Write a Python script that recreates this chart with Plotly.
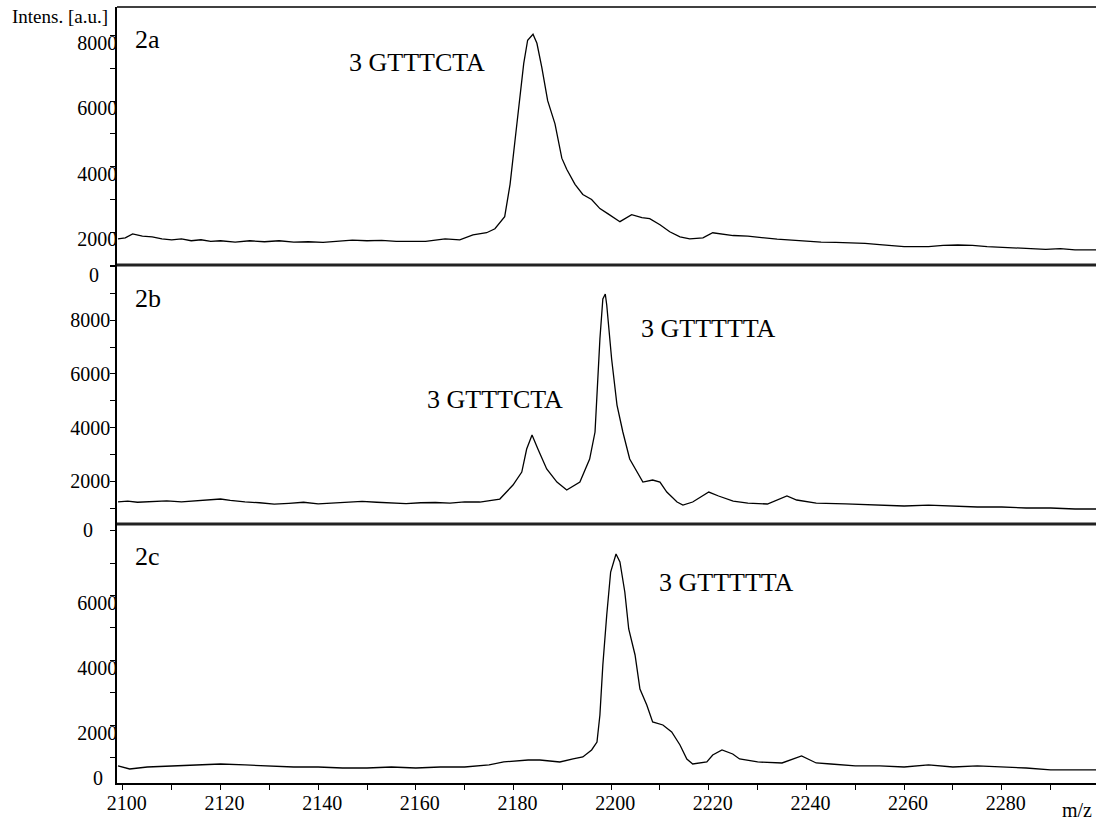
import plotly.graph_objects as go

# ---------------- data ----------------
mz_a = [2099.0, 2100.5, 2102.0, 2104.0, 2106.0, 2108.0, 2110.0, 2112.0, 2114.0, 2116.0,
        2118.0, 2120.0, 2123.0, 2126.0, 2129.0, 2132.0, 2135.0, 2138.0, 2141.0, 2144.0,
        2147.0, 2150.0, 2153.0, 2156.0, 2159.0, 2162.0, 2164.0, 2166.0, 2169.0, 2171.7,
        2174.5, 2176.2, 2178.2, 2179.3, 2180.3, 2181.3, 2182.1, 2182.9, 2184.0, 2184.8,
        2185.8, 2187.0, 2188.5, 2189.9, 2190.9, 2192.6, 2194.2, 2196.0, 2197.7, 2199.3,
        2201.8, 2204.2, 2206.3, 2207.9, 2210.0, 2212.0, 2214.1, 2216.1, 2218.8, 2220.8,
        2222.3, 2225.0, 2228.0, 2231.0, 2234.0, 2237.0, 2240.0, 2243.0, 2246.0, 2249.0,
        2252.0, 2255.0, 2260.0, 2265.0, 2268.0, 2271.0, 2274.0, 2277.0, 2280.0, 2283.0,
        2286.0, 2289.0, 2292.0, 2295.0, 2299.3]
int_a = [1800, 1830, 1950, 1880, 1860, 1800, 1770, 1800, 1740, 1770,
         1720, 1740, 1700, 1740, 1710, 1740, 1700, 1710, 1690, 1730,
         1760, 1740, 1750, 1720, 1730, 1720, 1760, 1800, 1769, 1923,
         1985, 2108, 2477, 3462, 4785, 6108, 7154, 7862, 8046, 7769,
         7031, 6016, 5308, 4262, 3923, 3462, 3154, 3000, 2723, 2569,
         2323, 2539, 2446, 2415, 2231, 2015, 1862, 1800, 1831, 1985,
         1954, 1900, 1880, 1830, 1790, 1760, 1720, 1700, 1690, 1680,
         1660, 1620, 1560, 1560, 1600, 1610, 1600, 1560, 1540, 1520,
         1500, 1480, 1500, 1460, 1460]

mz_b = [2099.0, 2101.0, 2103.0, 2106.0, 2109.0, 2112.0, 2115.0, 2118.0, 2120.0, 2122.0,
        2125.0, 2128.0, 2131.0, 2134.0, 2137.0, 2140.0, 2143.0, 2146.0, 2149.0, 2152.0,
        2155.0, 2158.0, 2161.0, 2164.0, 2167.0, 2170.0, 2173.1, 2177.2, 2179.9, 2181.7,
        2182.7, 2183.8, 2185.0, 2186.8, 2188.9, 2190.9, 2193.6, 2195.6, 2196.7, 2197.1,
        2197.7, 2198.3, 2198.8, 2199.1, 2200.1, 2201.2, 2202.4, 2203.8, 2205.3, 2206.5,
        2208.5, 2210.0, 2211.4, 2213.5, 2214.7, 2216.7, 2220.0, 2222.0, 2225.0, 2228.0,
        2232.0, 2236.0, 2238.0, 2242.0, 2248.0, 2255.0, 2260.0, 2265.0, 2270.0, 2275.0,
        2280.0, 2285.0, 2290.0, 2295.0, 2299.3]
int_b = [1230, 1260, 1220, 1250, 1270, 1230, 1280, 1330, 1340, 1290,
         1230, 1200, 1150, 1180, 1220, 1160, 1190, 1230, 1250, 1220,
         1190, 1170, 1200, 1210, 1190, 1230, 1228, 1340, 1862, 2346,
         3203, 3725, 3203, 2458, 1973, 1675, 1973, 2831, 3837, 5216,
         7303, 8794, 8980, 8570, 6558, 4843, 3837, 2831, 2346, 1973,
         2048, 1973, 1600, 1228, 1116, 1228, 1600, 1452, 1265, 1190,
         1154, 1452, 1303, 1190, 1160, 1116, 1080, 1116, 1080, 1042,
         1042, 1005, 1005, 968, 968]

mz_c = [2099.0, 2101.4, 2105.0, 2110.0, 2115.0, 2120.0, 2125.0, 2130.0, 2135.0, 2140.0,
        2145.0, 2150.0, 2155.0, 2160.0, 2165.0, 2170.0, 2175.0, 2178.0, 2181.0, 2183.0,
        2185.4, 2189.5, 2192.2, 2194.2, 2196.0, 2197.1, 2197.7, 2198.3, 2199.1, 2199.9,
        2201.0, 2201.8, 2202.8, 2203.6, 2204.9, 2205.9, 2207.3, 2208.5, 2210.6, 2212.4,
        2214.1, 2215.5, 2216.7, 2219.6, 2220.8, 2222.7, 2224.9, 2226.3, 2230.0, 2235.0,
        2239.0, 2242.0, 2245.0, 2250.0, 2255.0, 2260.0, 2265.0, 2270.0, 2275.0, 2280.0,
        2285.0, 2290.0, 2295.0, 2299.3]
int_c = [754, 661, 723, 754, 785, 815, 785, 754, 723, 723,
         692, 692, 723, 692, 723, 723, 785, 877, 908, 938,
         938, 877, 969, 1031, 1246, 1492, 2323, 3862, 5400, 6723,
         7277, 7031, 6108, 4969, 4169, 3123, 2631, 2108, 2015, 1800,
         1400, 969, 815, 877, 1092, 1246, 1123, 969, 877, 846,
         1062, 846, 815, 754, 754, 723, 785, 723, 754, 723,
         692, 631, 631, 631]

ticks_a = [2000, 4000, 6000, 8000]
minor_a = [1000, 3000, 5000, 7000]
ticks_b = [2000, 4000, 6000, 8000]
minor_b = [1000, 3000, 5000, 7000, 9000, 10000]
ticks_c = [2000, 4000, 6000]
minor_c = [1000, 3000, 5000, 7000, 8000]
x_ticks = [2100, 2120, 2140, 2160, 2180, 2200, 2220, 2240, 2260, 2280]

panel_labels = ["2a", "2b", "2c"]
peak_labels = [
    ("3 GTTTCTA", 2160.2, 7185, "y"),
    ("3 GTTTTTA", 2220.0, 7713, "y2"),
    ("3 GTTTCTA", 2176.2, 5067, "y2"),
    ("3 GTTTTTA", 2223.7, 6415, "y3"),
]

FONT = "Liberation Serif, Times New Roman, serif"
line_style = dict(color="black", width=1.3)

fig = go.Figure()
fig.add_trace(go.Scatter(x=mz_a, y=int_a, xaxis="x", yaxis="y", mode="lines", line=line_style, showlegend=False))
fig.add_trace(go.Scatter(x=mz_b, y=int_b, xaxis="x", yaxis="y2", mode="lines", line=line_style, showlegend=False))
fig.add_trace(go.Scatter(x=mz_c, y=int_c, xaxis="x", yaxis="y3", mode="lines", line=line_style, showlegend=False))

d1 = 259 / 776
d2 = 518 / 776

def yax(domain, rng, tv, mv, shift, standoff):
    return dict(
        domain=domain, range=rng, anchor="x",
        tickmode="array", tickvals=tv, ticktext=[str(v) for v in tv],
        ticks="outside", ticklen=5, tickwidth=1.2, tickcolor="black",
        minor=dict(tickvals=mv, ticks="outside", ticklen=5, tickwidth=1.2, tickcolor="black"),
        showline=True, linecolor="black", linewidth=1.5,
        showgrid=False, zeroline=False,
        tickfont=dict(family=FONT, size=20, color="black"),
        ticklabelshift=shift, ticklabelstandoff=standoff,
        fixedrange=True,
    )

fig.update_layout(
    width=1096, height=820,
    margin=dict(l=117, r=0, t=7, b=37),
    paper_bgcolor="white", plot_bgcolor="white",
    font=dict(family=FONT, color="black"),
    xaxis=dict(
        domain=[0, 1], range=[2098.8, 2299.3], anchor="y3",
        tickmode="array", tickvals=x_ticks, ticktext=[str(v) for v in x_ticks],
        ticks="outside", ticklen=5, tickwidth=1.2, tickcolor="black",
        minor=dict(dtick=10, tick0=2100, ticks="outside", ticklen=5, tickwidth=1.2, tickcolor="black"),
        showline=True, linecolor="black", linewidth=1.5,
        showgrid=False, zeroline=False,
        tickfont=dict(family=FONT, size=20, color="black"),
        ticklabelstandoff=-4, ticklabelshift=4,
        fixedrange=True,
    ),
    yaxis=yax([d2, 1], [1000, 8877], ticks_a, minor_a, 7, -11),
    yaxis2=yax([d1, d2], [409, 10061], ticks_b, minor_b, 0, -4),
    yaxis3=yax([0, d1], [230, 8200], ticks_c, minor_c, 8, -11),
)

shapes = []
for yy in [d1, d2]:
    shapes.append(dict(type="line", xref="paper", yref="paper", x0=0, x1=1, y0=yy, y1=yy,
                       line=dict(color="#222222", width=3)))
shapes.append(dict(type="line", xref="paper", yref="paper", x0=0, x1=1, y0=1, y1=1,
                   line=dict(color="black", width=1.5)))
fig.update_layout(shapes=shapes)

ann = []
for txt, x, y, yr in peak_labels:
    ann.append(dict(text=txt, x=x, y=y, xref="x", yref=yr, showarrow=False,
                    font=dict(family=FONT, size=26, color="black"), xanchor="center", yanchor="middle"))
for lab, yp in zip(panel_labels, [(781 - 38) / 776, (781 - 296) / 776, (781 - 554) / 776]):
    ann.append(dict(text=lab, x=16 / 979, y=yp, xref="paper", yref="paper", showarrow=False,
                    font=dict(family=FONT, size=26, color="black"), xanchor="left", yanchor="middle"))
for xp, yp in [(94, 273), (88, 528), (97.5, 776)]:
    ann.append(dict(text="0", x=(xp - 117) / 979, y=(781 - yp) / 776, xref="paper", yref="paper",
                    showarrow=False, font=dict(family=FONT, size=20, color="black"),
                    xanchor="center", yanchor="middle"))
ann.append(dict(text="Intens. [a.u.]", x=-7 / 979, y=(781 - 15) / 776, xref="paper", yref="paper",
                showarrow=False, font=dict(family=FONT, size=19, color="black"),
                xanchor="right", yanchor="middle"))
ann.append(dict(text="m/z", x=(1077 - 117) / 979, y=(781 - 808) / 776, xref="paper", yref="paper",
                showarrow=False, font=dict(family=FONT, size=20, color="black"),
                xanchor="center", yanchor="middle"))
fig.update_layout(annotations=ann)

fig.write_html("out.html", config={"displayModeBar": False},
               post_script="document.body.style.margin='0';")
